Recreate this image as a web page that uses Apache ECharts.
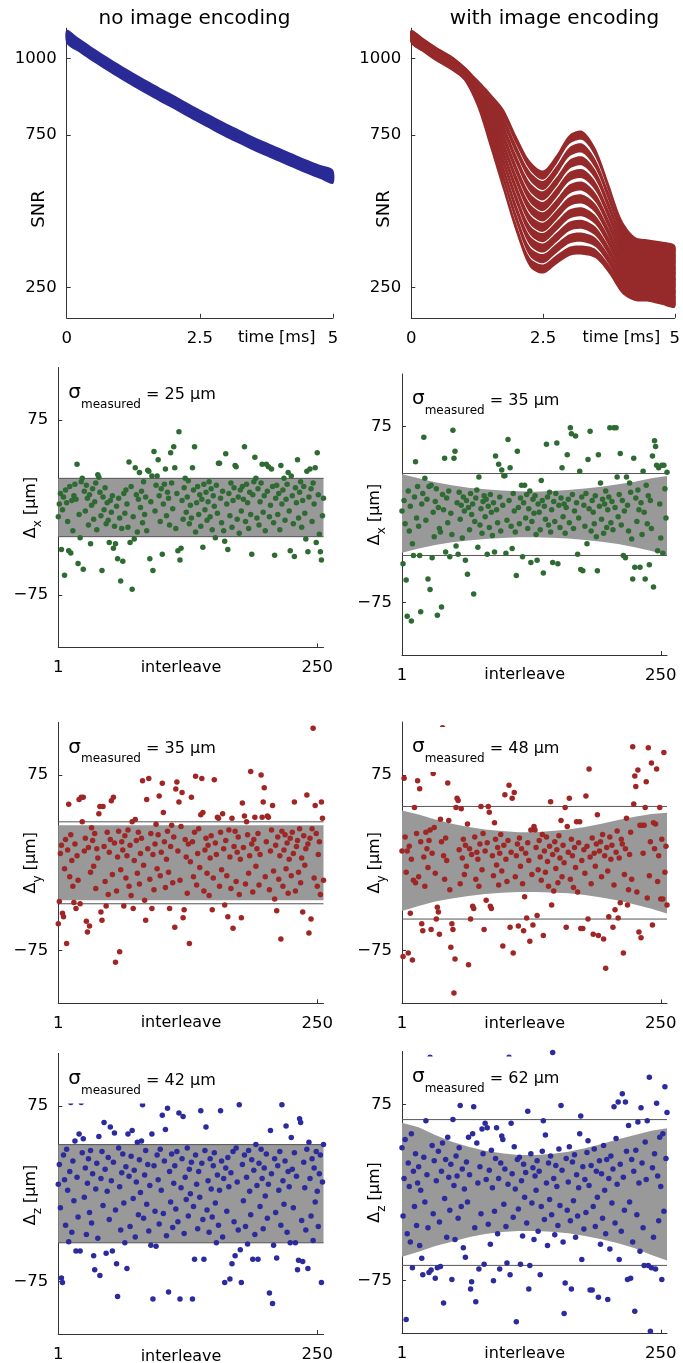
<!DOCTYPE html>
<html>
<head>
<meta charset="utf-8">
<script src="https://cdn.jsdelivr.net/npm/echarts@6/dist/echarts.min.js"></script>
<style>
  html, body { margin: 0; padding: 0; background: #fff; }
  #chart { width: 683px; height: 1363px; }
</style>
</head>
<body>
<div id="chart"></div>
<script>
// ---- SNR traces (time in ms) ----
const timeMs = [0, 0.25, 0.5, 0.75, 1, 1.25, 1.5, 1.75, 2, 2.25, 2.5, 2.75, 3, 3.25, 3.5, 3.75, 4, 4.25, 4.5, 4.75, 5];
const snrPlain = [1072, 1042, 1012, 984, 957, 931, 906, 882, 859, 834, 810, 787, 764, 743, 722, 703, 684, 665, 646, 629, 613];
// one row per interleave group, encoded acquisition
const snrEncoded = [
  [1080, 1050, 1021, 996, 962, 918, 872, 820, 730, 650, 618, 668, 735, 748, 690, 575, 455, 400, 392, 385, 374],
  [1078, 1048, 1019, 994, 960, 912, 855, 793, 698, 615, 584, 632, 694, 706, 653, 546, 432, 380, 373, 365, 354],
  [1077, 1046, 1017, 992, 958, 905, 838, 767, 666, 579, 550, 595, 653, 664, 617, 516, 408, 360, 354, 346, 335],
  [1075, 1044, 1015, 990, 956, 898, 822, 740, 633, 544, 515, 559, 613, 622, 580, 487, 385, 340, 334, 326, 315],
  [1073, 1043, 1013, 988, 954, 891, 805, 713, 601, 509, 481, 522, 572, 581, 543, 457, 362, 320, 315, 306, 296],
  [1071, 1041, 1011, 986, 952, 884, 788, 687, 569, 473, 447, 486, 531, 539, 507, 428, 338, 300, 295, 287, 276],
  [1069, 1039, 1009, 984, 950, 877, 772, 660, 537, 438, 413, 450, 490, 497, 470, 399, 315, 280, 276, 267, 257],
  [1067, 1037, 1007, 982, 948, 871, 755, 633, 504, 403, 379, 413, 450, 456, 433, 369, 292, 260, 257, 247, 237],
  [1065, 1035, 1005, 980, 946, 864, 738, 607, 472, 367, 344, 377, 409, 414, 397, 340, 268, 240, 237, 228, 217],
  [1063, 1033, 1003, 978, 944, 858, 722, 580, 440, 332, 310, 340, 368, 372, 360, 310, 245, 220, 218, 208, 198]
];
const snrTicks = [250, 750, 1000];
const timeTicks = [0, 2.5, 5];

// ---- per-interleave position errors (µm), interleave = index + 1 ----
const dxPlain = [
  -8, 3, 12, -36, -2, 9, -58, 15, 4, -12, -37, 18, -39, 6, -20, 10,
  20, 7, 37, -48, -6, -26, 22, 25, -53, 14, -3, 19, 8, -15, 11, -31,
  2, 16, -10, 5, 21, -19, 28, 26, 13, -7, -54, 9, -2, 17, -14, 4,
  -11, -30, 6, -4, 10, -35, -16, -31, 1, -44, 8, -9, -63, -18, -46, 12,
  -5, 15, 3, -17, 39, -30, 18, -70, -8, -27, 34, 11, -21, 7, 30, 0,
  14, -13, 22, -6, 9, -20, 32, 31, -44, 5, 27, -54, 48, -3, 19, 27,
  41, 10, -12, 16, -40, 3, 20, 33, -7, 13, 8, -15, 47, 21, -1, 52,
  34, -18, 12, -37, 65, -45, -35, 6, -10, 17, 25, -4, 9, 23, -14, 2,
  -9, 34, 15, 52, -21, 4, 18, -6, 11, -16, 7, -34, 20, -2, 13, -11,
  5, 22, -8, 16, -19, 10, 1, -26, 19, -5, 38, 38, 8, -13, 14, -20,
  -29, 46, 3, -36, 12, -7, 21, -17, 6, 17, 36, 35, -10, 9, -22, 15,
  -3, 18, 7, 52, -12, 20, 4, -18, 13, -6, -40, 11, 22, 43, 25, -9,
  16, -15, 5, 21, 37, -4, 10, -20, 37, 14, 35, -8, 2, 33, 18, -13,
  -41, 8, 19, -6, 12, -19, 36, 3, 15, 25, -11, 7, 20, 30, -3, -37,
  27, 10, -14, -42, 17, 4, 41, -9, 13, 22, -17, 6, 18, -5, -27, 31,
  -38, 9, 33, 16, -12, 21, 3, 34, -30, 47, 11, -23, -38, -45, -7, 8
];
const dxEncoded = [
  3, -42, 12, -8, -56, -87, 20, -14, 7, -91, -25, -35, 15, 45, -3, 24,
  -10, -35, -83, 9, 18, 66, 31, -5, 13, -55, 24, -64, 25, -37, 2, -19,
  11, 22, -86, 6, -12, -15, -79, 17, 4, 48, -32, 14, -7, 20, -36, 1,
  -17, 72, 48, 54, -27, 10, -34, 19, -4, 8, -20, 15, 3, -39, 12, -51,
  6, -13, 18, 0, 9, -68, -6, 14, 21, -28, 32, -9, 5, -16, 11, 16,
  -2, 13, -34, 7, -11, 17, 2, -18, 10, -32, 50, 4, -7, 43, 15, -14,
  38, 8, 33, 33, -33, -5, 64, 12, 40, -10, -29, 18, 3, -15, -52, 54,
  6, -8, 14, 25, -36, 10, 25, -3, 17, -12, 5, 20, -41, -6, 13, 1,
  16, -17, -39, 9, 2, -13, 29, 12, -50, 7, -4, 60, 15, -9, 19, -15,
  4, -41, 11, -6, 18, 61, -42, 8, -11, 14, 40, -2, 9, -16, 6, 51,
  13, -7, 74, 69, 17, -12, 3, 67, 10, -34, -3, 37, -47, 15, -48, 8,
  -10, 18, -25, 47, 5, 71, -14, 12, 2, -8, 16, -19, -48, 51, 7, 27,
  -4, 13, -16, 9, 20, -11, 4, 15, 74, -7, 11, -13, 74, 6, 74, 32,
  -2, 17, 52, -9, 12, -35, 3, -37, 32, 8, -14, 27, 19, -21, -55, 48,
  -45, 14, -6, 21, 4, -45, 10, -17, 37, 2, -55, 25, -8, 16, -43, 12,
  -12, 50, -62, 63, 58, 42, -31, 40, 9, -20, 42, -33, 42, 22, -3, 36
];
const dyPlain = [
  -52, -33, 8, 15, -43, -46, -5, 20, -69, 11, 50, -12, 24, 2, -20, -34,
  16, -39, 6, -15, 54, -35, 56, 35, 56, 10, 21, -50, -59, 13, -54, -8,
  30, 19, -3, 25, -22, 12, 4, 42, 48, -42, -49, 48, 14, -16, -37, 26,
  -27, 9, 20, 53, -10, 56, 17, -85, -24, 5, 27, -76, -6, 18, 11, -37,
  23, -13, 6, 28, -20, 15, -28, 35, -39, 2, 37, 19, -9, 26, -18, 8,
  21, 70, -2, -32, -49, 54, 12, 72, -14, 25, -39, 7, -23, 16, 33, -5,
  24, 57, -11, 9, 68, 43, 18, -21, 3, 27, -8, -39, 14, 32, -17, 22,
  -55, 63, 69, 10, 52, -15, 31, 60, -47, -40, 20, 5, -26, 16, -69, 1,
  56, 18, -12, 26, 74, -19, 8, 29, -4, 41, 72, 43, -24, 11, 21, -9,
  15, -28, 4, 23, -40, -13, 71, 17, 7, 39, 38, -20, 26, -6, 42, 12,
  -36, 19, -11, -46, 28, 5, -22, 38, -56, 14, 27, -16, 9, 22, -27, 3,
  -47, 51, 13, 40, -18, 35, 24, -9, 6, 78, 16, -25, 20, 39, -3, 12,
  25, -19, 7, 75, 39, 52, 64, -12, 18, 40, 39, -23, 10, 28, 49, -7,
  -31, 15, -41, 22, -14, 6, -65, 27, -20, 11, 24, -5, 17, -26, 3, 21,
  -11, 26, 8, 52, -24, 14, 19, -8, 29, -17, 4, -42, 23, -2, 12, 58,
  16, -60, 21, -48, 29, 115, -13, 49, 25, -20, 7, 18, -27, 52, 38, -15
];
const dyEncoded = [
  10, -80, 72, 22, -8, 10, -77, 14, -43, 3, -83, -15, 47, -17, 25, 70,
  -12, 63, 18, -52, -58, 5, -20, 26, 12, -4, 19, 28, -57, 8, 76, 30,
  -9, -48, -38, -42, -61, 37, 18, 115, 6, -14, 21, 2, 68, 36, -23, -72,
  -52, -57, -111, -82, 47, 55, 53, 11, -18, 46, 4, 20, -10, 15, -3, 33,
  -87, 12, -48, 7, -37, -39, 22, -14, 9, 3, -20, 16, 48, -6, 25, -57,
  10, -32, 17, 48, 43, -37, -39, 6, -11, 34, 20, -2, 13, -19, 8, 24,
  -7, -71, 15, 58, 3, -16, 19, 66, -55, 9, 55, -77, 60, -12, 6, 16,
  -54, 21, -3, 12, -18, -58, -29, 8, -47, 17, 2, -67, 28, -10, -53, 31,
  28, 13, -45, -6, 19, 5, -15, 24, -62, 10, -8, 22, 1, -20, 14, 52,
  -36, 7, -24, 18, -5, 11, -17, 23, 4, 36, -12, 15, 0, 47, -55, 31,
  9, 55, -14, 20, 6, -21, 13, -4, 35, -25, 17, 35, -56, 2, -56, 11,
  -9, 57, 14, -48, 80, 5, -18, 21, -61, 8, -3, 16, 41, -62, 10, 18,
  -12, 24, -65, 6, -90, 13, -7, -46, 22, 3, 15, -55, -19, -40, 9, 27,
  -47, 4, -34, 20, 16, -77, -10, 12, 38, -36, -23, 7, 26, -14, 99, 50,
  74, 65, -25, 79, -59, 32, -64, 32, 8, 32, 47, 69, -30, 98, -11, 18,
  85, -53, 34, 12, 33, 80, -16, 6, 47, -31, 20, -31, 94, -8, 14, -36
];
const dzPlain = [
  8, 25, -12, -72, -76, 33, 12, -27, 38, 3, -41, 19, 78, -33, 28, -6,
  45, -49, 14, -20, 51, -49, 78, 35, 47, -3, 22, -35, 9, 30, -16, 37,
  -25, 17, -53, -65, 4, 26, -38, 49, -70, 13, 36, -10, 61, 21, -51, 2,
  31, -22, 57, 11, -49, 27, 52, -14, -60, -88, 39, 6, -31, 18, 34, -8,
  -42, 23, -64, 51, 15, -28, 32, 54, -4, 20, -37, 10, 44, -18, 29, 1,
  45, 76, -21, 16, 37, -9, 25, -32, 7, -44, 51, -90, 24, -15, -45, 33,
  12, -26, 38, 3, 67, -17, 28, 55, -36, 73, -84, 19, -7, 34, -29, 9,
  24, -13, 36, -24, 69, -90, 5, 30, 66, -34, 14, -5, 39, -19, 21, 0,
  27, -90, -11, -56, 33, 8, -30, 19, -3, 71, 26, -22, -56, 37, 57, -14,
  11, -33, 30, 4, -20, 24, 35, -8, -42, 16, -27, 3, 71, 28, -37, 13,
  -76, 22, -15, 31, 6, -73, 18, -60, 36, -24, -53, 39, 10, -31, 76, -48,
  -76, 25, -6, 33, -28, 14, -43, 37, 2, -18, 29, -56, 20, -35, 42, 7,
  -56, 26, -11, 38, 13, -30, 22, -2, 34, -21, 8, -85, 54, 17, -94, -44,
  30, -16, -55, 24, 3, 36, -27, 76, 11, -9, 28, 58, -33, 19, 6, -42,
  48, 21, -12, 35, -42, 15, -65, -57, 64, 61, -23, -58, 27, 5, -31, 38,
  -64, 44, 13, -19, 30, -40, 22, -7, 36, 2, -28, 17, 33, -76, 10, 42
];
const dzEncoded = [
  38, -20, 12, 45, -108, -35, 25, 5, -42, 50, -64, 18, -12, 33, -28, 8,
  22, -45, 2, -56, -70, 30, -8, 61, 15, -30, -68, 115, -66, 40, -18, 27,
  -73, 10, -64, 35, -25, -63, 18, 42, -94, -5, 28, -38, 47, 13, -15, 24,
  -74, 62, 6, -40, 31, 14, -22, 38, 74, -12, 20, -47, 3, -55, 26, -8,
  47, 15, -82, -76, 50, 73, -30, -93, 42, 8, -65, 22, -18, 54, 33, -61,
  59, 11, 55, -27, 19, -44, 36, 4, -75, -16, 29, 55, -35, 12, -65, 25,
  48, 45, -10, 20, -29, -60, 7, 115, -70, 59, 16, -21, 39, 3, -110, 28,
  -14, 30, -61, 10, -37, 24, -4, 17, -26, 69, -82, -62, 33, -9, 21, -40,
  14, 2, 27, -33, 18, -70, -12, 35, 61, -23, 49, 8, -45, 25, -6, 31,
  -19, 119, 12, -36, 23, 5, -28, 37, -11, 74, 19, -42, -103, -77, 29, -15,
  9, 39, -24, -82, 26, -7, 32, -38, 15, -20, 4, 50, 65, -57, 22, -31,
  11, -17, 34, 44, 6, -83, 23, -83, -12, 37, -29, 18, -4, -89, 27, -44,
  16, -22, 40, 2, -35, 28, -91, 12, -48, 31, -9, 20, 73, -26, 46, 7,
  77, -57, 24, -33, 84, 13, -15, 77, 35, -74, 57, -8, -73, 28, -42, 18,
  -101, 36, -19, 60, 8, -50, 72, 25, -30, -62, 43, 11, 61, -62, 98, -118,
  -64, 21, -38, 33, -65, 76, 14, -24, 47, 5, -74, 50, -16, 90, 29, 68
];

// measured spread (µm) per panel
const sigmaMeasured = [25, 35, 35, 48, 42, 62];

// predicted error bounds (µm)
const plainBandX = [1, 256];
const dxPlainUpper = [25, 25];
const dxPlainLower = [-25, -25];
const dyPlainUpper = [32, 32];
const dyPlainLower = [-32, -32];
const dzPlainUpper = [42, 42];
const dzPlainLower = [-42, -42];
const encBandX = [1, 17, 33, 49, 65, 81, 97, 113, 129, 145, 161, 177, 193, 209, 225, 241, 256];
const dxEncUpper = [34.3, 30.9, 27.5, 24.9, 22.9, 21.5, 20.4, 19.8, 19.5, 20.1, 20.9, 22.1, 23.8, 25.8, 28.0, 30.9, 32.9];
const dxEncLower = [-32.7, -29.0, -26.1, -23.8, -22.1, -21.0, -20.1, -19.5, -19.5, -19.8, -20.6, -21.8, -23.2, -25.2, -28.0, -31.2, -34.9];
const dyEncUpper = [44.6, 41.2, 36.9, 33.2, 30.4, 28.4, 27.0, 26.1, 26.1, 27.0, 28.4, 30.4, 33.2, 36.4, 39.2, 41.5, 42.6];
const dyEncLower = [-41.2, -36.9, -33.0, -30.4, -28.4, -26.7, -25.6, -25.0, -25.0, -25.3, -26.1, -27.6, -29.6, -32.1, -35.5, -39.2, -43.2];
const dzEncUpper = [59.4, 55.4, 48.9, 43.2, 39.0, 35.6, 33.3, 31.9, 31.9, 32.7, 34.7, 37.6, 41.2, 45.2, 48.9, 52.6, 54.6];
const dzEncLower = [-54.6, -50.3, -45.5, -41.8, -38.1, -35.3, -33.6, -32.7, -32.7, -33.3, -34.7, -37.0, -39.8, -43.2, -47.5, -53.1, -57.9];

const errTicks = [-75, 75];
const interleaveTicks = [1, 250];

// ---- look & layout ----
const FONT = 'DejaVu Sans';
const AXIS_COLOR = '#333';
const BLUE = '#2a2a96';
const RED = '#962929';
const DOT_GREEN = '#2e6b32';
const DOT_RED = '#a02626';
const DOT_BLUE = '#2b2b9e';
const TICK_FONT = 16.5;
// vertical half-spread (in SNR units) of the noisy traces
const PLAIN_SPREAD = 23;
const ENC_SPREAD = 15;

const snrGrids = [
  { left: 66.7, top: 28.2, width: 266.3, height: 289.6 },
  { left: 411.3, top: 28.2, width: 267.4, height: 289.6 }
];
const errGrids = [
  { left: 58.3, top: 367.5, width: 265.2, height: 280 },
  { left: 402, top: 374, width: 265, height: 281 },
  { left: 58.3, top: 722.3, width: 265.2, height: 281 },
  { left: 402, top: 722, width: 265, height: 281.5 },
  { left: 58.3, top: 1053.4, width: 265.2, height: 283.2 },
  { left: 402, top: 1051.4, width: 265, height: 282.2 }
];

const panels = [
  { values: dxPlain, bx: plainBandX, up: dxPlainUpper, lo: dxPlainLower, color: DOT_GREEN, sub: 'x' },
  { values: dxEncoded, bx: encBandX, up: dxEncUpper, lo: dxEncLower, color: DOT_GREEN, sub: 'x' },
  { values: dyPlain, bx: plainBandX, up: dyPlainUpper, lo: dyPlainLower, color: DOT_RED, sub: 'y' },
  { values: dyEncoded, bx: encBandX, up: dyEncUpper, lo: dyEncLower, color: DOT_RED, sub: 'y' },
  { values: dzPlain, bx: plainBandX, up: dzPlainUpper, lo: dzPlainLower, color: DOT_BLUE, sub: 'z' },
  { values: dzEncoded, bx: encBandX, up: dzEncUpper, lo: dzEncLower, color: DOT_BLUE, sub: 'z' }
];

function axisBase(ticks, fmt) {
  return {
    type: 'value',
    axisLine: { show: true, onZero: false, lineStyle: { color: AXIS_COLOR, width: 1 } },
    axisTick: { show: true, inside: true, length: 4, customValues: ticks, lineStyle: { color: AXIS_COLOR } },
    splitLine: { show: false },
    axisLabel: {
      customValues: ticks, color: '#000', fontFamily: FONT, fontSize: TICK_FONT, margin: 10,
      formatter: fmt || (v => String(v))
    }
  };
}
const minusFmt = v => (v < 0 ? '\u2212' + Math.abs(v) : String(v));

const grid = [];
const xAxis = [];
const yAxis = [];
const series = [];
const elements = [];

function txt(x, y, text, size, opts) {
  return Object.assign({
    type: 'text', x: x, y: y, z: 100, silent: true,
    style: {
      text: text, fontFamily: FONT, fontSize: size, fill: '#000',
      align: 'center', verticalAlign: 'middle', textAlign: 'center', textVerticalAlign: 'middle'
    }
  }, opts || {});
}

// a noisy trace drawn as a band of constant vertical spread around its values
function traceSeries(axisIndex, values, spread, color) {
  return {
    type: 'custom', xAxisIndex: axisIndex, yAxisIndex: axisIndex, silent: true, z: 2,
    data: [[0, values[0]]],
    renderItem: (params, api) => {
      const pts = [];
      timeMs.forEach((t, i) => pts.push(api.coord([t, values[i] + spread])));
      for (let i = timeMs.length - 1; i >= 0; i--) pts.push(api.coord([timeMs[i], values[i] - spread]));
      return { type: 'polygon', shape: { points: pts, smooth: 0.3 }, style: { fill: color } };
    }
  };
}

// SNR panels
snrGrids.forEach((g, k) => {
  grid.push(g);
  xAxis.push(Object.assign(axisBase(timeTicks), { gridIndex: k, min: 0, max: 5 }));
  xAxis[xAxis.length - 1].axisLabel.margin = 12;
  yAxis.push(Object.assign(axisBase(snrTicks), { gridIndex: k, min: 150, max: 1100 }));
  const bottom = g.top + g.height;
  const tl = txt(g.left + 210, bottom + 12, 'time [ms]', 16);
  tl.style.verticalAlign = 'top'; tl.style.textVerticalAlign = 'top';
  elements.push(tl);
});
series.push(traceSeries(0, snrPlain, PLAIN_SPREAD, BLUE));
snrEncoded.forEach(row => series.push(traceSeries(1, row, ENC_SPREAD, RED)));
elements.push(txt(194.5, 19, 'no image encoding', 20));
elements.push(txt(554.5, 19, 'with image encoding', 20));
elements.push(txt(39, 209, 'SNR', 18, { rotation: Math.PI / 2 }));
elements.push(txt(384.5, 209, 'SNR', 18, { rotation: Math.PI / 2 }));

// position-error panels
panels.forEach((p, j) => {
  const g = errGrids[j];
  const k = grid.length;
  grid.push(g);
  xAxis.push(Object.assign(axisBase(interleaveTicks), { gridIndex: k, min: 1, max: 256 }));
  xAxis[xAxis.length - 1].axisLabel.margin = 12;
  yAxis.push(Object.assign(axisBase(errTicks, minusFmt), { gridIndex: k, min: -120, max: 120 }));
  // predicted bound (gray band)
  series.push({
    type: 'custom', xAxisIndex: k, yAxisIndex: k, silent: true, z: 1,
    data: [[1, 0]],
    renderItem: (params, api) => {
      const pts = [];
      p.bx.forEach((x, i) => pts.push(api.coord([x, p.up[i]])));
      for (let i = p.bx.length - 1; i >= 0; i--) pts.push(api.coord([p.bx[i], p.lo[i]]));
      return { type: 'polygon', shape: { points: pts }, style: { fill: '#999999' } };
    }
  });
  // measured spread lines
  const s = sigmaMeasured[j];
  [s, -s].forEach(v => {
    series.push({
      type: 'line', xAxisIndex: k, yAxisIndex: k, silent: true, showSymbol: false,
      data: [[1, v], [256, v]], lineStyle: { color: '#555', width: 1 }, z: 2
    });
  });
  // per-interleave errors
  series.push({
    type: 'scatter', xAxisIndex: k, yAxisIndex: k, silent: true, clip: false,
    symbolSize: 5.5, itemStyle: { color: p.color, opacity: 1 },
    data: p.values.map((v, i) => [i + 1, v]), z: 3
  });

  const bottom = g.top + g.height;
  const il = txt(g.left + 122.7, bottom + 12, 'interleave', 16);
  il.style.verticalAlign = 'top'; il.style.textVerticalAlign = 'top';
  elements.push(il);

  elements.push({
    type: 'text', x: g.left - 25, y: g.top + g.height / 2, rotation: Math.PI / 2, z: 100, silent: true,
    style: {
      text: '{a|\u0394}{b|' + p.sub + '}{a| [\u03bcm]}',
      align: 'center', verticalAlign: 'middle', textAlign: 'center', textVerticalAlign: 'middle',
      rich: {
        a: { fontFamily: FONT, fontSize: 16, fill: '#000', verticalAlign: 'bottom', padding: [0, 0, 5, 0] },
        b: { fontFamily: FONT, fontSize: 12, fill: '#000', verticalAlign: 'bottom' }
      }
    }
  });

  // annotation box covering the points beneath it
  elements.push({
    type: 'rect', z: 99, silent: true,
    shape: { x: g.left + 5, y: g.top + 5, width: 158, height: 45 },
    style: { fill: '#fff' }
  });
  elements.push({
    type: 'text', x: g.left + 10, y: g.top + 29, z: 100, silent: true,
    style: {
      text: '{s|\u03c3}{m|measured}{t| = ' + s + ' \u03bcm}',
      align: 'left', verticalAlign: 'middle', textAlign: 'left', textVerticalAlign: 'middle',
      rich: {
        s: { fontFamily: FONT, fontSize: 20, fill: '#000', verticalAlign: 'bottom', padding: [0, 0, 8, 0] },
        m: { fontFamily: FONT, fontSize: 12, fill: '#000', verticalAlign: 'bottom' },
        t: { fontFamily: FONT, fontSize: 16, fill: '#000', verticalAlign: 'bottom', padding: [0, 0, 8, 0] }
      }
    }
  });
});

const chart = echarts.init(document.getElementById('chart'), null, { renderer: 'canvas' });
chart.setOption({
  animation: false,
  backgroundColor: '#fff',
  grid: grid,
  xAxis: xAxis,
  yAxis: yAxis,
  series: series,
  graphic: { elements: elements }
});
</script>
</body>
</html>
